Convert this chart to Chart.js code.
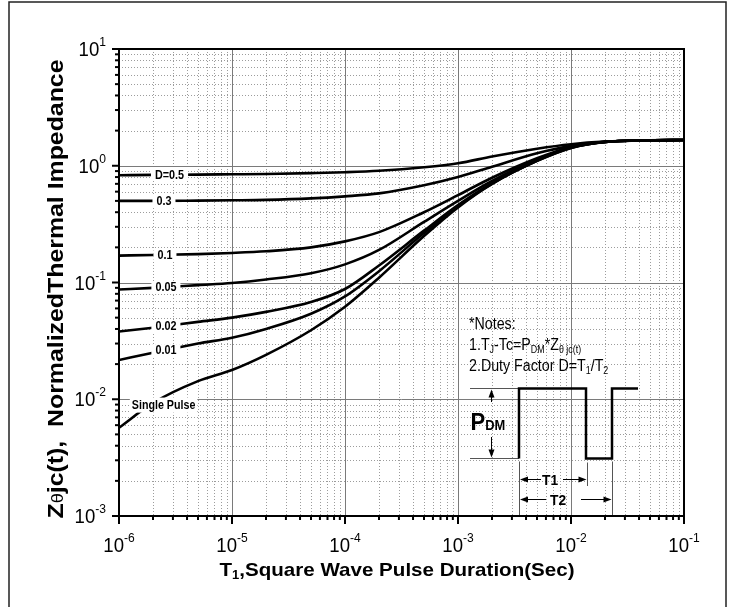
<!DOCTYPE html>
<html>
<head>
<meta charset="utf-8">
<script src="https://cdn.jsdelivr.net/npm/chart.js@4.4.1/dist/chart.umd.min.js"></script>
<style>
  html, body { margin: 0; padding: 0; background: #fff; }
  #wrap { width: 734px; height: 607px; }
</style>
</head>
<body>
<div id="wrap"><canvas id="zth" width="734" height="607"></canvas></div>
<script>
const pulseTimes = [1e-6, 2e-6, 5e-6, 1e-5, 2e-5, 5e-5, 1e-4, 2e-4, 5e-4, 1e-3, 2e-3, 5e-3, 1e-2, 2e-2, 5e-2, 1e-1];

const dutyLabels = ['D=0.5', '0.3', '0.1', '0.05', '0.02', '0.01', 'Single Pulse'];

// normalized Zth(jc) per duty factor
const zD050   = [0.83, 0.835, 0.84, 0.845, 0.85, 0.865, 0.88, 0.905, 0.97, 1.05, 1.2, 1.4, 1.53, 1.61, 1.65, 1.66];
const zD030   = [0.50, 0.50, 0.503, 0.506, 0.51, 0.525, 0.547, 0.58, 0.68, 0.80, 0.98, 1.28, 1.48, 1.6, 1.65, 1.66];
const zD010   = [0.170, 0.172, 0.175, 0.179, 0.185, 0.20, 0.225, 0.27, 0.40, 0.56, 0.79, 1.16, 1.45, 1.6, 1.65, 1.66];
const zD005   = [0.087, 0.090, 0.095, 0.099, 0.106, 0.12, 0.143, 0.19, 0.33, 0.50, 0.74, 1.13, 1.44, 1.6, 1.65, 1.66];
const zD002   = [0.038, 0.041, 0.046, 0.050, 0.056, 0.068, 0.088, 0.14, 0.278, 0.46, 0.71, 1.11, 1.43, 1.6, 1.65, 1.66];
const zD001   = [0.0217, 0.025, 0.030, 0.0336, 0.040, 0.054, 0.076, 0.125, 0.265, 0.45, 0.70, 1.10, 1.42, 1.6, 1.65, 1.66];
const zSingle = [0.0057, 0.0093, 0.0143, 0.0178, 0.0240, 0.039, 0.062, 0.11, 0.25, 0.44, 0.70, 1.10, 1.42, 1.6, 1.65, 1.66];

// decade exponents for tick labels
const xDecades = [-6, -5, -4, -3, -2, -1];
const yDecades = [-3, -2, -1, 0, 1];

const FONT = '"Liberation Sans", Arial, sans-serif';
const seriesList = [zD050, zD030, zD010, zD005, zD002, zD001, zSingle];

function f(spec) { return spec + ' ' + FONT; }

function richWidth(ctx, parts) {
    let w = 0;
    parts.forEach(p => { ctx.font = f(p.f); w += ctx.measureText(p.t).width; });
    return w;
}

// draws text runs of mixed size (sub/superscripts); fit = target width or horizontal scale
function drawRich(ctx, parts, x, y, align, fit) {
    const raw = richWidth(ctx, parts);
    const sx = fit > 2 ? fit / raw : (fit || 1);
    const w = raw * sx;
    const x0 = align === 'center' ? x - w / 2 : (align === 'right' ? x - w : x);
    ctx.save();
    ctx.textAlign = 'left';
    ctx.textBaseline = 'alphabetic';
    ctx.translate(x0, y);
    ctx.scale(sx, 1);
    let px = 0;
    parts.forEach(p => {
        ctx.font = f(p.f);
        ctx.fillText(p.t, px, p.dy || 0);
        px += ctx.measureText(p.t).width;
    });
    ctx.restore();
    return w;
}

function line(ctx, x1, y1, x2, y2) {
    ctx.beginPath(); ctx.moveTo(x1, y1); ctx.lineTo(x2, y2); ctx.stroke();
}

function arrowHead(ctx, x, y, dir) {
    // dir: 'l','r','u','d' ; tip at (x,y)
    const L = 8, W = 3;
    ctx.beginPath();
    ctx.moveTo(x, y);
    if (dir === 'l') { ctx.lineTo(x + L, y - W); ctx.lineTo(x + L, y + W); }
    if (dir === 'r') { ctx.lineTo(x - L, y - W); ctx.lineTo(x - L, y + W); }
    if (dir === 'u') { ctx.lineTo(x - W, y + L); ctx.lineTo(x + W, y + L); }
    if (dir === 'd') { ctx.lineTo(x - W, y - L); ctx.lineTo(x + W, y - L); }
    ctx.closePath();
    ctx.fill();
}

function curveYAt(meta, px) {
    const pts = meta.data;
    for (let i = 0; i < pts.length - 1; i++) {
        if (px >= pts[i].x && px <= pts[i + 1].x) {
            const t = (px - pts[i].x) / (pts[i + 1].x - pts[i].x);
            return pts[i].y + t * (pts[i + 1].y - pts[i].y);
        }
    }
    return pts[0].y;
}

const decor = {
    id: 'decor',
    beforeDatasetsDraw(chart) {
        const { ctx, chartArea: ca, scales: { x, y } } = chart;
        ctx.save();
        // minor dotted grid
        ctx.strokeStyle = '#9c9c9c';
        ctx.lineWidth = 1;
        ctx.setLineDash([1, 2]);
        for (let d = -6; d < -1; d++) {
            for (let m = 2; m <= 9; m++) {
                const p = Math.round(x.getPixelForValue(m * Math.pow(10, d))) + 0.5;
                line(ctx, p, ca.top, p, ca.bottom);
            }
        }
        for (let d = -3; d < 1; d++) {
            for (let m = 2; m <= 9; m++) {
                const p = Math.round(y.getPixelForValue(m * Math.pow(10, d))) + 0.5;
                line(ctx, ca.left, p, ca.right, p);
            }
        }
        // major solid grid
        ctx.setLineDash([]);
        ctx.strokeStyle = '#7a7a7a';
        xDecades.forEach(e => {
            const p = Math.round(x.getPixelForValue(Math.pow(10, e))) + 0.5;
            line(ctx, p, ca.top, p, ca.bottom);
        });
        yDecades.forEach(e => {
            const p = Math.round(y.getPixelForValue(Math.pow(10, e))) + 0.5;
            line(ctx, ca.left, p, ca.right, p);
        });
        ctx.restore();
    },
    afterDatasetsDraw(chart) {
        const { ctx, chartArea: ca, scales: { x, y } } = chart;
        ctx.save();
        ctx.fillStyle = '#000';

        // curve labels sitting on the lines
        const labelAtX = [2.8e-6, 2.5e-6, 2.55e-6, 2.6e-6, 2.6e-6, 2.6e-6];
        labelAtX.forEach((lx, i) => {
            const meta = chart.getDatasetMeta(i);
            const px = x.getPixelForValue(lx);
            const py = curveYAt(meta, px);
            const parts = [{ t: dutyLabels[i], f: 'bold 12px' }];
            const w = richWidth(ctx, parts) * 0.9;
            ctx.fillStyle = '#fff';
            ctx.fillRect(px - w / 2 - 4, py - 6, w + 8, 12);
            ctx.fillStyle = '#000';
            drawRich(ctx, parts, px, py + 4.3, 'center', 0.9);
        });
        {
            const px = x.getPixelForValue(2.48e-6);
            const py = y.getPixelForValue(0.0090);
            const parts = [{ t: dutyLabels[6], f: 'bold 12px' }];
            const w = richWidth(ctx, parts) * 0.89;
            ctx.fillStyle = '#fff';
            ctx.fillRect(px - w / 2 - 2, py - 7, w + 4, 15);
            ctx.fillStyle = '#000';
            drawRich(ctx, parts, px, py + 4.3, 'center', 0.89);
        }

        // notes
        const nx = ca.left + 350;
        drawRich(ctx, [{ t: '*Notes:', f: '16px' }], nx, 329, 'left', 0.89);
        drawRich(ctx, [
            { t: '1.T', f: '16px' }, { t: 'J', f: '10px', dy: 3 },
            { t: '-Tc=P', f: '16px' }, { t: 'DM', f: '10px', dy: 3 },
            { t: '*Z', f: '16px' }, { t: 'θ jc(t)', f: '10px', dy: 3 }
        ], nx, 350, 'left', 0.89);
        drawRich(ctx, [
            { t: '2.Duty Factor D=T', f: '16px' }, { t: '1', f: '10px', dy: 3 },
            { t: '/T', f: '16px' }, { t: '2', f: '10px', dy: 3 }
        ], nx, 371, 'left', 0.89);

        // pulse diagram (chart-area relative)
        const L = ca.left;
        const hi = 388.5, lo = 458.5;
        const xa = L + 351, xr = L + 400, xf = L + 467, xr2 = L + 493, xe = L + 519;
        ctx.strokeStyle = '#555';
        ctx.lineWidth = 1;
        line(ctx, xa, hi, xr, hi);
        line(ctx, xa, lo, xr, lo);
        line(ctx, xr + 0.5, lo + 3, xr + 0.5, ca.bottom);
        line(ctx, xr2 + 0.5, lo + 3, xr2 + 0.5, ca.bottom);
        line(ctx, xf + 1.5, lo + 4, xf + 1.5, 486);
        ctx.strokeStyle = '#000';
        ctx.lineWidth = 2.5;
        ctx.beginPath();
        ctx.moveTo(xr, lo); ctx.lineTo(xr, hi); ctx.lineTo(xf, hi); ctx.lineTo(xf, lo);
        ctx.lineTo(xr2, lo); ctx.lineTo(xr2, hi); ctx.lineTo(xe, hi);
        ctx.stroke();
        // PDM arrows
        const ax = L + 372.5;
        ctx.lineWidth = 1;
        line(ctx, ax, hi + 6, ax, 402);
        arrowHead(ctx, ax, hi + 1, 'u');
        line(ctx, ax, 437, ax, lo - 6);
        arrowHead(ctx, ax, lo - 1, 'd');
        drawRich(ctx, [{ t: 'P', f: 'bold 24px' }, { t: 'DM', f: 'bold 14px' }], L + 351.5, 430, 'left', 0.92);
        // T1 / T2 dimension arrows
        const t1y = 479.5, t2y = 499.5;
        line(ctx, xr + 8, t1y, xr + 22, t1y);
        arrowHead(ctx, xr + 1, t1y, 'l');
        drawRich(ctx, [{ t: 'T1', f: 'bold 15px' }], xr + 31, t1y + 5.5, 'center', 0.92);
        line(ctx, xr + 44, t1y, xf - 6, t1y);
        arrowHead(ctx, xf + 0.5, t1y, 'r');
        line(ctx, xr + 8, t2y, xr + 27, t2y);
        arrowHead(ctx, xr + 1, t2y, 'l');
        drawRich(ctx, [{ t: 'T2', f: 'bold 15px' }], xr + 39, t2y + 5.5, 'center', 0.92);
        line(ctx, xr + 62, t2y, xr2 - 6, t2y);
        arrowHead(ctx, xr2 - 0.5, t2y, 'r');

        // plot frame
        ctx.strokeStyle = '#000';
        ctx.lineWidth = 2;
        ctx.strokeRect(ca.left, ca.top, ca.right - ca.left, ca.bottom - ca.top);

        // ticks
        ctx.lineWidth = 2;
        for (let d = -6; d <= -1; d++) {
            const p = x.getPixelForValue(Math.pow(10, d));
            line(ctx, p, ca.bottom, p, ca.bottom + 8);
            if (d < -1) for (let m = 2; m <= 9; m++) {
                const q = x.getPixelForValue(m * Math.pow(10, d));
                line(ctx, q, ca.bottom, q, ca.bottom + 4);
            }
        }
        for (let d = -3; d <= 1; d++) {
            const p = y.getPixelForValue(Math.pow(10, d));
            line(ctx, ca.left, p, ca.left - 7, p);
            if (d < 1) for (let m = 2; m <= 9; m++) {
                const q = y.getPixelForValue(m * Math.pow(10, d));
                line(ctx, ca.left, q, ca.left - 4, q);
            }
        }

        // tick labels 10^n
        xDecades.forEach(e => {
            const p = x.getPixelForValue(Math.pow(10, e));
            drawRich(ctx, [{ t: '10', f: '20px' }, { t: String(e), f: '13px', dy: -10 }], p, 552, 'center', 0.93);
        });
        yDecades.forEach(e => {
            const p = y.getPixelForValue(Math.pow(10, e));
            drawRich(ctx, [{ t: '10', f: '20px' }, { t: String(e), f: '13px', dy: -10 }], ca.left - 13, p + 7, 'right', 0.93);
        });

        // axis titles
        drawRich(ctx, [
            { t: 'T', f: 'bold 19px' }, { t: '1', f: 'bold 12px', dy: 3 },
            { t: ',Square Wave Pulse Duration(Sec)', f: 'bold 19px' }
        ], 397, 576, 'center', 355);
        ctx.save();
        ctx.translate(55, 289);
        ctx.rotate(-Math.PI / 2);
        drawRich(ctx, [
            { t: 'Z', f: 'bold 22px' }, { t: 'θ', f: '16px' },
            { t: 'jc(t),  NormalizedThermal Impedance', f: 'bold 22px' }
        ], 0, 8, 'center', 459);
        ctx.restore();

        // outer frame of the figure
        ctx.strokeStyle = '#222';
        ctx.lineWidth = 1.5;
        ctx.beginPath();
        ctx.moveTo(9, 610); ctx.lineTo(9, 2); ctx.lineTo(726, 2); ctx.lineTo(726, 610);
        ctx.stroke();
        ctx.restore();
    }
};

new Chart(document.getElementById('zth'), {
    type: 'scatter',
    data: {
        datasets: seriesList.map((s, i) => ({
            label: dutyLabels[i],
            data: pulseTimes.map((t, k) => ({ x: t, y: s[k] })),
            showLine: true,
            borderColor: '#000',
            borderWidth: 2.6,
            pointRadius: 0,
            fill: false,
            cubicInterpolationMode: 'monotone'
        }))
    },
    options: {
        responsive: false,
        animation: false,
        devicePixelRatio: 1,
        layout: { padding: { left: 0, right: 50, top: 49, bottom: 0 } },
        plugins: { legend: { display: false }, tooltip: { enabled: false } },
        scales: {
            x: {
                type: 'logarithmic', min: 1e-6, max: 1e-1,
                ticks: { display: false }, grid: { display: false }, border: { display: false },
                afterFit: s => { s.height = 91; }
            },
            y: {
                type: 'logarithmic', min: 1e-3, max: 10,
                ticks: { display: false }, grid: { display: false }, border: { display: false },
                afterFit: s => { s.width = 119; }
            }
        }
    },
    plugins: [decor]
});
</script>
</body>
</html>
